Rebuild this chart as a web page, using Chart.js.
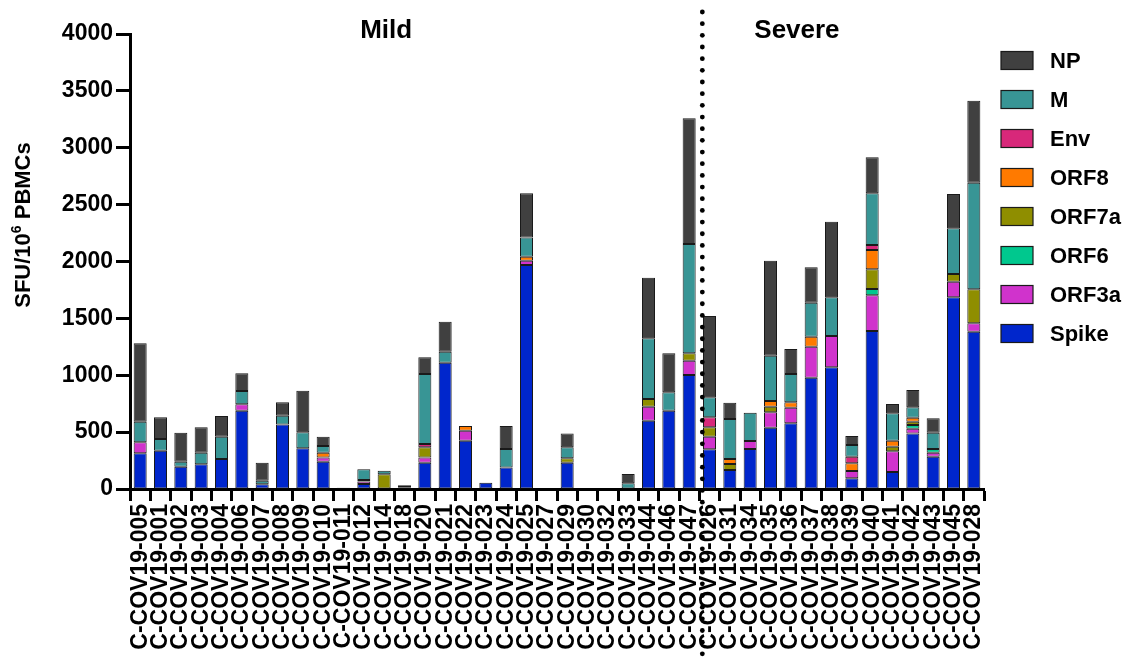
<!DOCTYPE html>
<html>
<head>
<meta charset="utf-8">
<script src="https://cdn.jsdelivr.net/npm/chart.js@4"></script>
<style>
  html, body { margin: 0; padding: 0; background: #fff; }
  #wrap { width: 1129px; height: 662px; position: relative; }
</style>
</head>
<body>
<div id="wrap"><canvas id="c" width="1129" height="662"></canvas></div>
<script>
const categories = ['C-COV19-005','C-COV19-001','C-COV19-002','C-COV19-003','C-COV19-004','C-COV19-006','C-COV19-007','C-COV19-008','C-COV19-009','C-COV19-010','C-COV19-011','C-COV19-012','C-COV19-014','C-COV19-018','C-COV19-020','C-COV19-021','C-COV19-022','C-COV19-023','C-COV19-024','C-COV19-025','C-COV19-027','C-COV19-029','C-COV19-030','C-COV19-032','C-COV19-033','C-COV19-044','C-COV19-046','C-COV19-047','C-COV19-026','C-COV19-031','C-COV19-034','C-COV19-035','C-COV19-036','C-COV19-037','C-COV19-038','C-COV19-039','C-COV19-040','C-COV19-041','C-COV19-042','C-COV19-043','C-COV19-045','C-COV19-028'];

const spike = [314,337,196,217,264,688,41,568,358,240,0,45,0,0,231,1110,425,56,188,1969,0,231,0,0,0,601,688,1002,349,167,352,539,577,979,1070,94,1389,149,489,284,1685,1383];
const orf3a = [96,0,0,0,0,56,0,0,0,38,0,20,0,0,47,0,88,0,0,38,0,0,0,0,0,123,0,126,111,0,70,135,138,272,275,64,314,182,41,35,138,74];
const orf6  = [0,0,0,0,0,0,0,0,0,0,0,0,0,0,0,0,0,0,0,0,0,0,0,0,0,0,0,0,0,0,0,0,0,0,0,0,55,0,33,33,0,0];
const orf7a = [0,0,0,0,0,0,0,0,0,0,0,0,130,0,88,0,0,0,0,0,0,39,0,0,0,67,0,65,82,53,0,50,0,0,0,0,173,41,29,0,67,299];
const orf8  = [0,0,0,0,0,0,0,0,0,41,0,0,0,0,0,0,41,0,0,35,0,0,0,0,0,0,0,0,0,44,0,50,47,88,0,68,170,53,35,0,0,0];
const env   = [0,0,0,0,0,0,0,0,0,0,0,14,0,0,30,0,0,0,0,0,0,0,0,0,0,0,0,0,88,0,0,0,0,0,0,58,44,0,0,0,0,0];
const mProt = [182,103,44,102,196,117,32,77,140,59,0,94,31,16,615,97,0,0,164,170,0,96,0,0,50,534,162,961,176,351,249,398,249,299,340,103,454,240,91,143,402,937];
const np    = [689,190,255,223,182,156,158,117,366,82,10,0,0,16,147,264,0,0,202,387,0,123,0,0,82,533,343,1105,715,144,0,835,220,311,665,79,317,82,152,126,301,721];

const yTicks = [0,500,1000,1500,2000,2500,3000,3500,4000];
const groups = [{name:'Mild', from:0, to:27, at:12.1}, {name:'Severe', from:28, to:41, at:32.3}];
const yTitle = ['SFU/10', '6', ' PBMCs'];

const seriesNames  = ['Spike','ORF3a','ORF6','ORF7a','ORF8','Env','M','NP'];
const seriesValues = [spike, orf3a, orf6, orf7a, orf8, env, mProt, np];
const seriesColors = ['#0026CC','#D033CC','#00C88E','#8F8E00','#FF7A00','#D8287A','#389595','#404040'];

const FONT = '"Liberation Sans", Arial, Helvetica, sans-serif';

const datasets = seriesNames.map((n, i) => ({
  label: n,
  data: seriesValues[i],
  backgroundColor: seriesColors[i],
  borderColor: '#1a1a1a',
  borderWidth: 1,
  borderSkipped: false,
  barPercentage: 0.64,
  categoryPercentage: 1.0
}));

const decorPlugin = {
  id: 'decor',
  afterDraw(chart) {
    const ctx = chart.ctx;
    const x = chart.scales.x;
    ctx.save();
    // dotted separator between groups
    const sepX = (x.getPixelForValue(groups[0].to) + x.getPixelForValue(groups[1].from)) / 2 + 3;
    ctx.fillStyle = '#000';
    for (let yy = 12; yy < 662; yy += 11.67) {
      ctx.beginPath();
      ctx.arc(sepX, yy, 2.4, 0, Math.PI * 2);
      ctx.fill();
    }
    // group titles
    ctx.font = 'bold 26px ' + FONT;
    ctx.textAlign = 'center';
    ctx.textBaseline = 'middle';
    groups.forEach(g => {
      ctx.fillText(g.name, x.getPixelForValue(g.at), 31);
    });
    // y title with superscript
    ctx.translate(24, 225);
    ctx.rotate(-Math.PI / 2);
    ctx.textBaseline = 'middle';
    ctx.textAlign = 'left';
    const big = 'bold 22px ' + FONT, small = 'bold 14px ' + FONT;
    ctx.font = big; const w1 = ctx.measureText(yTitle[0]).width;
    ctx.font = small; const w2 = ctx.measureText(yTitle[1]).width;
    ctx.font = big; const w3 = ctx.measureText(yTitle[2]).width;
    let sx = -(w1 + w2 + w3) / 2;
    ctx.font = big; ctx.fillText(yTitle[0], sx, 0); sx += w1;
    ctx.font = small; ctx.fillText(yTitle[1], sx, -7); sx += w2;
    ctx.font = big; ctx.fillText(yTitle[2], sx, 0);
    ctx.restore();

    // legend (reverse order: top of stack first)
    ctx.save();
    ctx.font = 'bold 22px ' + FONT;
    ctx.textBaseline = 'middle';
    ctx.textAlign = 'left';
    const ds = chart.data.datasets.slice().reverse();
    ds.forEach((d, i) => {
      const cy = 60.5 + i * 39;
      ctx.fillStyle = d.backgroundColor;
      ctx.fillRect(1001, cy - 9, 32, 18);
      ctx.strokeStyle = '#1a1a1a';
      ctx.lineWidth = 1.2;
      ctx.strokeRect(1001, cy - 9, 32, 18);
      ctx.fillStyle = '#000';
      ctx.fillText(d.label, 1050, cy + 1);
    });
    ctx.restore();
  }
};

new Chart(document.getElementById('c'), {
  type: 'bar',
  data: { labels: categories, datasets },
  options: {
    responsive: false,
    animation: false,
    devicePixelRatio: 1,
    layout: { padding: { top: 34, right: 145, left: 0, bottom: 0 } },
    plugins: { legend: { display: false }, tooltip: { enabled: false }, title: { display: false } },
    scales: {
      x: {
        stacked: true,
        offset: true,
        afterFit: s => { s.height = 173; },
        border: { display: true, color: '#000', width: 3 },
        grid: { display: true, drawOnChartArea: false, drawTicks: true, tickLength: 12, tickWidth: 3, tickColor: '#000' },
        ticks: {
          autoSkip: false, minRotation: 90, maxRotation: 90, padding: 3, color: '#000',
          font: { family: FONT, weight: 'bold', size: 23 }
        }
      },
      y: {
        stacked: true,
        min: 0, max: 4000,
        afterFit: s => { s.width = 130; },
        afterBuildTicks: s => { s.ticks = yTicks.map(v => ({ value: v })); },
        border: { display: true, color: '#000', width: 3 },
        grid: { display: true, drawOnChartArea: false, drawTicks: true, tickLength: 14, tickWidth: 3, tickColor: '#000' },
        ticks: { padding: 3, color: '#000', font: { family: FONT, weight: 'bold', size: 23 }, callback: v => String(v) }
      }
    }
  },
  plugins: [decorPlugin]
});
</script>
</body>
</html>
